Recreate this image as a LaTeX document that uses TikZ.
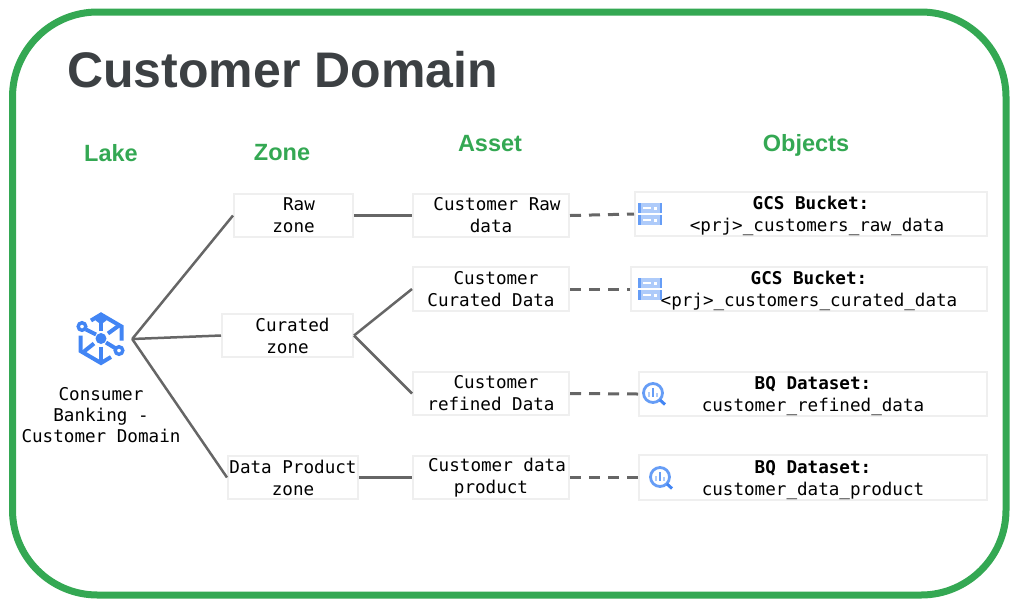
\documentclass[tikz,border=0pt]{standalone}
\usepackage{fontspec}
\usepackage{xcolor}
\setmainfont{Liberation Sans}
\setmonofont{DejaVu Sans Mono}
\definecolor{gcpgreen}{HTML}{34A853}
\definecolor{gcpblue}{HTML}{4285F4}
\definecolor{gcpmid}{HTML}{669DF6}
\definecolor{gcplight}{HTML}{AECBFA}
\definecolor{titlegray}{HTML}{3C4043}
\definecolor{linegray}{HTML}{666666}
\definecolor{boxgray}{HTML}{EFEFEF}
\newcommand{\objstrut}{\rule{0pt}{18pt}}
\newcommand{\bucketicon}[2]{%
    \fill[gcplight] (#1,#2) rectangle ++(24,10);
    \fill[gcplight] (#1,#2+12) rectangle ++(24,10);
    \fill[gcpmid] (#1,#2) rectangle ++(2.5,10);
    \fill[gcpmid] (#1+21.5,#2) rectangle ++(2.5,10);
    \fill[gcpmid] (#1,#2+12) rectangle ++(2.5,10);
    \fill[gcpmid] (#1+21.5,#2+12) rectangle ++(2.5,10);
    \fill[white] (#1+5,#2+4.2) rectangle ++(8,1.6);
    \fill[white] (#1+16,#2+3.5) rectangle ++(3,3);
    \fill[white] (#1+5,#2+16.2) rectangle ++(8,1.6);
    \fill[white] (#1+16,#2+15.5) rectangle ++(3,3);
}
\newcommand{\bqicon}[2]{%
    \draw[gcpmid,line width=2.8] (#1,#2) circle (9.5);
    \draw[gcpblue,line width=3] (#1+7,#2+7) -- (#1+12,#2+11.5);
    \fill[gcplight] (#1-5,#2-1) rectangle ++(2,5);
    \fill[gcpmid] (#1-1,#2-5) rectangle ++(2,9);
    \fill[gcplight] (#1+3,#2) rectangle ++(2,4);
}
\begin{document}
\begin{tikzpicture}[x=1pt,y=-1pt,
    every node/.style={font=\fontsize{17.6}{22}\selectfont\ttfamily,align=center},
    headlabel/.style={font=\fontsize{23.5}{28}\selectfont\bfseries,text=gcpgreen},
    itembox/.style={draw=boxgray,line width=2,fill=white,inner sep=0pt},
    solidlink/.style={linegray,line width=2.5},
    dashlink/.style={linegray,line width=3,dash pattern=on 11pt off 8pt}]
    \useasboundingbox (0,0) rectangle (1014,606);
    % Frame
    \draw[gcpgreen,line width=7,rounded corners=85] (12.5,12) rectangle (1006,595);
    \node[font=\fontsize{50}{60}\selectfont\bfseries,text=titlegray] (title) at (282.5,70) {Customer Domain};

    % Column titles
    \node[headlabel] (lakehead) at (111,153) {Lake};
    \node[headlabel] (zonehead) at (282,153) {Zone};
    \node[headlabel] (assethead) at (490,144) {Asset};
    \node[headlabel] (objecthead) at (806,145) {Objects};

    % Lake
    \node[minimum width=62,minimum height=52,inner sep=0pt] (lake) at (101,339) {};
    \node[font=\fontsize{17.6}{21}\selectfont\ttfamily] (lakelabel) at (101,415) {Consumer\\Banking -\\Customer Domain};
    \begin{scope}[shift={(101,338.5)},gcpblue,line width=4]
        \draw (-10,-18) -- (0,-24) -- (20.5,-12) -- (20.5,2);
        \draw (-20.5,-3) -- (-20.5,12.5) -- (0,24.5) -- (10,18.5);
        \draw (0,-20) -- (0,-8);
        \draw (-4,-17) -- (0,-22) -- (4,-17);
        \draw (0,8) -- (0,24);
        \draw (7,-5) -- (18,-13);
        \draw (-7,5) -- (-17,13);
        \draw (-15,-9) -- (-5,-4);
        \draw (5,4) -- (14,9.5);
        \draw[fill=white,line width=3.4] (-19,-12) circle (3.8);
        \draw[fill=white,line width=3.4] (18,12) circle (3.8);
        \fill (0,0) circle (5.5);
    \end{scope}

    % Zones
    \node[itembox,minimum width=119,minimum height=43] (rawzone) at (293.5,215.5) {\hspace*{11pt}Raw\\zone};
    \node[itembox,minimum width=131,minimum height=43] (curatedzone) at (287.5,335.5) {\hspace*{10pt}Curated\\zone};
    \node[itembox,minimum width=130,minimum height=43] (productzone) at (293,477.5) {Data Product\\zone};

    % Assets
    \node[itembox,minimum width=156,minimum height=43] (rawasset) at (491,215.5) {\hspace*{12pt}Customer Raw\\data};
    \node[itembox,minimum width=156,minimum height=44] (curatedasset) at (491,289) {\hspace*{10pt}Customer\\Curated Data};
    \node[itembox,minimum width=156,minimum height=43] (refinedasset) at (491,393.5) {\hspace*{10pt}Customer\\refined Data};
    \node[itembox,minimum width=156,minimum height=43] (productasset) at (491,477.5) {\hspace*{12pt}Customer data\\product};

    % Objects
    \node[itembox,minimum width=352,minimum height=44] (rawobject) at (811,214) {\objstrut\textbf{GCS Bucket:}\\\hspace*{12pt}<prj>\_customers\_raw\_data};
    \node[itembox,minimum width=356,minimum height=44] (curatedobject) at (809,289) {\objstrut\textbf{GCS Bucket:}\\<prj>\_customers\_curated\_data};
    \node[itembox,minimum width=348,minimum height=44] (refinedobject) at (813,394) {\objstrut\textbf{BQ Dataset:}\\customer\_refined\_data};
    \node[itembox,minimum width=348,minimum height=43] (productobject) at (813,477.5) {\objstrut\textbf{BQ Dataset:}\\customer\_data\_product};

    % Links
    \draw[solidlink] (lake.east) -- (rawzone.west);
    \draw[solidlink] (lake.east) -- (curatedzone.west);
    \draw[solidlink] (lake.east) -- (productzone.west);
    \draw[solidlink] (rawzone.east) -- (rawasset.west);
    \draw[solidlink] (curatedzone.east) -- (curatedasset.west);
    \draw[solidlink] (curatedzone.east) -- (refinedasset.west);
    \draw[solidlink] (productzone.east) -- (productasset.west);
    \draw[dashlink] (rawasset.east) -- (rawobject.west);
    \draw[dashlink] (curatedasset.east) -- (curatedobject.west);
    \draw[dashlink] (refinedasset.east) -- (refinedobject.west);
    \draw[dashlink] (productasset.east) -- (productobject.west);

    % Icons
    \bucketicon{638}{203}
    \bucketicon{638}{278}
    \bqicon{653}{393}
    \bqicon{660}{477}
\end{tikzpicture}
\end{document}
